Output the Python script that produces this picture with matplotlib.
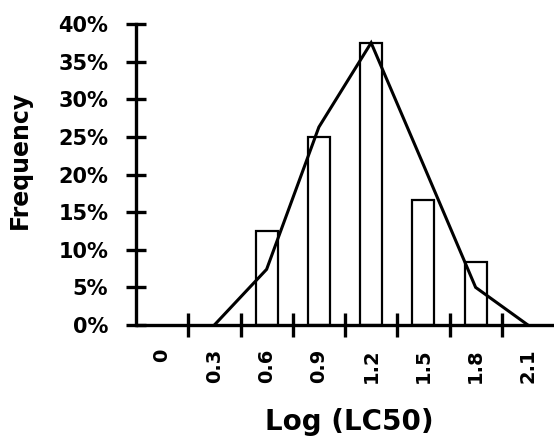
import matplotlib
matplotlib.use("Agg")
import matplotlib.pyplot as plt
from matplotlib.ticker import PercentFormatter

# categories on the x axis (Log LC50 classes)
categories = ["0", "0.3", "0.6", "0.9", "1.2", "1.5", "1.8", "2.1"]
# observed frequency (bars)
observed = [0.0, 0.0, 0.125, 0.25, 0.375, 0.1667, 0.0833, 0.0]
# fitted frequency (line), starts at 0.3
fitted = [None, 0.0, 0.074, 0.263, 0.375, 0.213, 0.05, 0.0]

plt.rcParams["font.family"] = "DejaVu Sans"
plt.rcParams["font.weight"] = "bold"

fig = plt.figure(figsize=(5.54, 4.43), dpi=100)
ax = fig.add_axes([136 / 554, 118 / 443, 418 / 554, 301 / 443])

x = list(range(len(categories)))
bar_x = [i for i, v in zip(x, observed) if v > 0]
bar_v = [v for v in observed if v > 0]
ax.bar(bar_x, bar_v, width=0.42, facecolor="white", edgecolor="black",
       linewidth=1.6, zorder=2)

line_x = [i for i, v in zip(x, fitted) if v is not None]
line_v = [v for v in fitted if v is not None]
ax.plot(line_x, line_v, color="black", linewidth=2.2, zorder=3,
        solid_joinstyle="miter")

ax.set_xlim(-0.5, len(categories) - 0.5)
ax.set_ylim(0, 0.40)
ax.set_yticks([i * 0.05 for i in range(9)])
ax.yaxis.set_major_formatter(PercentFormatter(1.0, decimals=0))

# category labels centred, ticks on the boundaries
ax.set_xticks(x)
ax.set_xticklabels(categories, rotation=90, fontsize=14, fontweight="bold")
ax.set_xticks([i + 0.5 for i in x[:-1]], minor=True)
ax.tick_params(axis="x", which="major", length=0, pad=17)
ax.tick_params(axis="x", which="minor", direction="inout", length=17, width=2.4)
ax.tick_params(axis="y", direction="inout", length=14, width=2.4, pad=13,
               labelsize=15)
for t in ax.get_yticklabels():
    t.set_fontweight("bold")

for s in ["top", "right"]:
    ax.spines[s].set_visible(False)
for s in ["left", "bottom"]:
    ax.spines[s].set_linewidth(2.4)
ax.spines["bottom"].set_capstyle("butt")

ax.set_xlabel("Log (LC50)", fontsize=20, fontweight="bold", va="center")
ax.xaxis.set_label_coords(0.51, -0.322)
ax.set_ylabel("Frequency", fontsize=17, fontweight="bold", va="center")
ax.yaxis.set_label_coords(-0.2775, 0.548)

fig.savefig("out.png", dpi=100)
